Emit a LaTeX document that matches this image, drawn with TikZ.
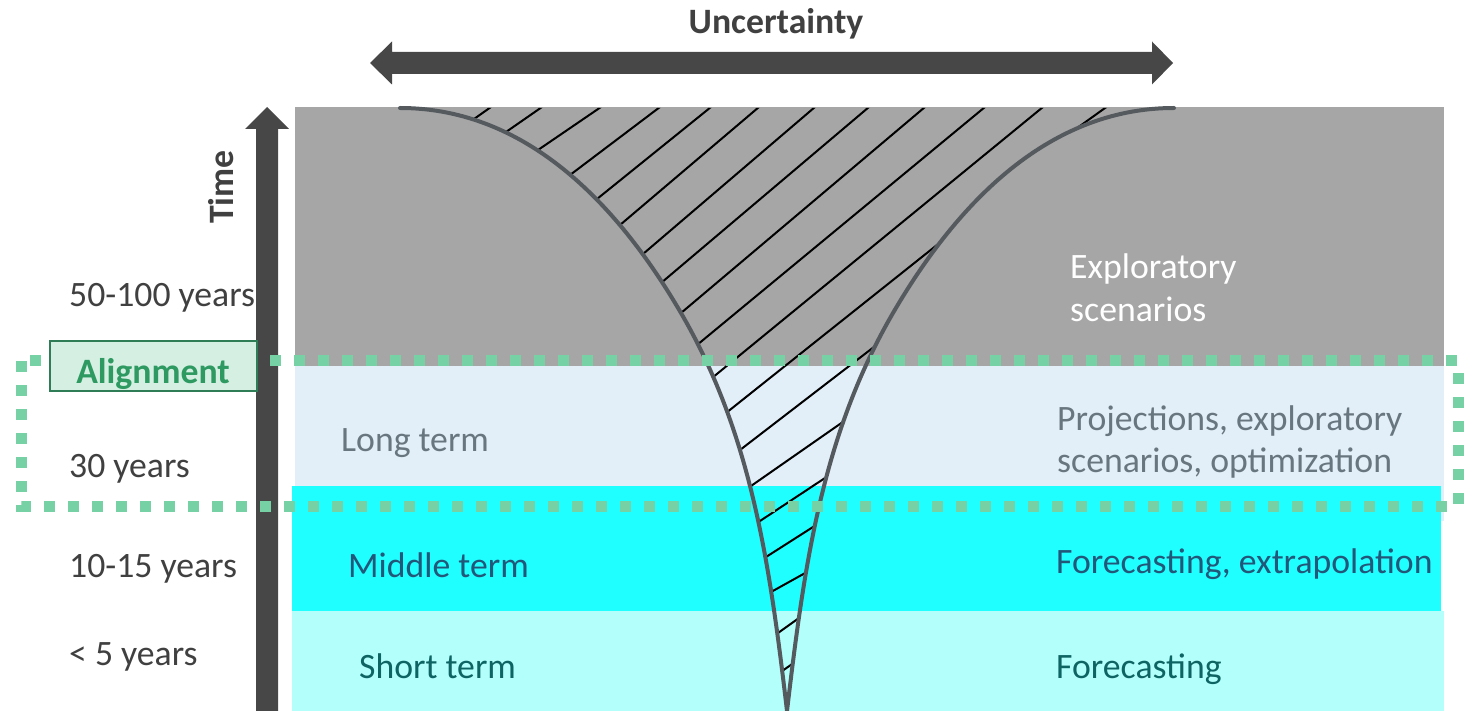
\documentclass[tikz,border=0pt]{standalone}
\usepackage{fontspec}
\setmainfont{Carlito}
\usetikzlibrary{calc}
\definecolor{gband}{HTML}{A6A6A6}
\definecolor{lband}{HTML}{E2EEF8}
\definecolor{cband}{HTML}{1FFFFF}
\definecolor{sband}{HTML}{B3FFFC}
\definecolor{arrowc}{HTML}{474747}
\definecolor{curvec}{HTML}{555A5F}
\definecolor{dotg}{HTML}{76D1A5}
\definecolor{alfill}{HTML}{D5F0E3}
\definecolor{aldraw}{HTML}{2E7D56}
\definecolor{altext}{HTML}{2E9A62}
\definecolor{lefttext}{HTML}{404040}
\definecolor{longc}{HTML}{687680}
\definecolor{midc}{HTML}{22577A}
\definecolor{shortc}{HTML}{0D6462}
\tikzset{
  lbl/.style={font=\fontsize{35.7}{43}\selectfont, inner sep=0pt, anchor=base west},
  blbl/.style={font=\fontsize{35.7}{43}\selectfont\bfseries, inner sep=0pt, anchor=base},
  hatch/.style={line width=2pt, black},
  funnel/.style={line width=4pt, curvec, line cap=round},
  bigarrow/.style={fill=arrowc},
  dotrect/.style={line width=11pt, dotg, dash pattern=on 11pt off 13pt},
}
\begin{document}
\begin{tikzpicture}[x=1pt,y=-1pt]
\useasboundingbox (0,0) rectangle (1473,711);
% bands
\fill[gband] (295,107) rectangle (1444,366);
\fill[lband] (295,366) rectangle (1444,521);
\fill[cband] (292,486) rectangle (1441,611);
\fill[sband] (292,611) rectangle (1444,711);
% funnel outline points
\coordinate (ltop) at (400,108);
\coordinate (lmid) at (681,313);
\coordinate (bot) at (787,711);
\coordinate (rmid) at (893,313);
\coordinate (rtop) at (1174,108);
% hatch lines clipped to funnel
\begin{scope}
\clip (ltop) .. controls (530,108) and (621,210) .. (lmid) .. controls (751,433.4) and (769.4,561) .. (bot)
  .. controls (804.6,561) and (823,433.4) .. (rmid) .. controls (953,210) and (1044,108) .. (rtop) -- cycle;
\foreach \ax/\ay/\bx/\by in {474/119/491/107, 506/132/542/107, 538/150/601/107, 570/175/660/107, 597/199/711/107, 620/225/759/107, 643/254/815/107, 661/283/869/107, 681/313/925/107, 697/345/985/107, 712/378/1043/107, 726/413/947/237, 740/450/883/340, 751/486/850/417, 760/521/828/476, 766/557/813/527, 771/592/807/572, 778/633/799/618, 785/669/795/662}
  \draw[hatch] ($(\ax,\ay)!-15pt!(\bx,\by)$) -- ($(\bx,\by)!-15pt!(\ax,\ay)$);
\draw[hatch] (1066,136) -- (1112,103);
\end{scope}
% funnel curves
\draw[funnel] (ltop) .. controls (530,108) and (621,210) .. (lmid) .. controls (751,433.4) and (769.4,561) .. (bot);
\draw[funnel] (bot) .. controls (804.6,561) and (823,433.4) .. (rmid) .. controls (953,210) and (1044,108) .. (rtop);
% arrows
\fill[bigarrow] (370,63) -- (392,41.5) -- (392,52) -- (1152,52) -- (1152,41.5) -- (1173,63) -- (1152,84.5) -- (1152,74) -- (392,74) -- (392,84.5) -- cycle;
\fill[bigarrow] (267,107) -- (289,129) -- (278,129) -- (278,711) -- (256,711) -- (256,129) -- (245,129) -- cycle;
% dotted alignment rectangle
\draw[dotrect] (21,361) rectangle (1458,506);
% alignment box
\node[draw=aldraw, fill=alfill, line width=2pt, minimum width=207pt, minimum height=50pt, inner sep=0pt] (alignbox) at (153,366) {};
\node[blbl, text=altext] (aligntext) at (153,383) {Alignment};
% titles
\node[blbl, text=lefttext] (uncert) at (776,34) {Uncertainty};
\node[blbl, text=lefttext, rotate=90] (time) at (233,187) {Time};
% left labels
\node[lbl, text=lefttext] (y50) at (69,307) {50-100 years};
\node[lbl, text=lefttext] (y30) at (69,477) {30 years};
\node[lbl, text=lefttext] (y10) at (69,577) {10-15 years};
\node[lbl, text=lefttext] (y5) at (69,665) {< 5 years};
% band labels
\node[lbl, text=longc] (longt) at (341,451) {Long term};
\node[lbl, text=midc] (midt) at (348,577) {Middle term};
\node[lbl, text=shortc] (shortt) at (359,678) {Short term};
\node[lbl, text=white] (expl1) at (1070,279) {Exploratory};
\node[lbl, text=white] (expl2) at (1070,322) {scenarios};
\node[lbl, text=longc] (proj1) at (1057,430) {Projections, exploratory};
\node[lbl, text=longc] (proj2) at (1057,472) {scenarios, optimization};
\node[lbl, text=midc] (fore1) at (1056,573) {Forecasting, extrapolation};
\node[lbl, text=shortc] (fore2) at (1056,678) {Forecasting};
\end{tikzpicture}
\end{document}
